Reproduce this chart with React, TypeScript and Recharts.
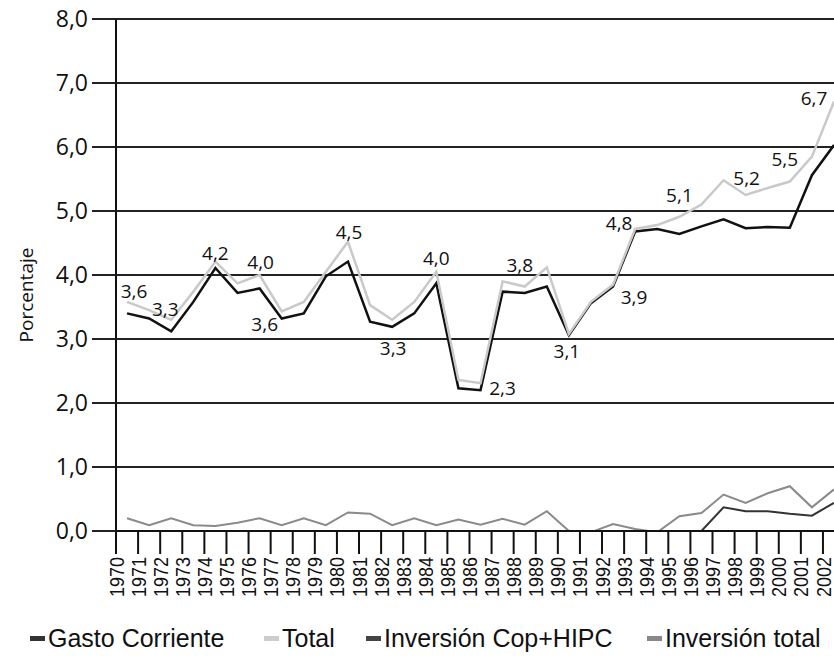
import { LineChart, Line, XAxis, YAxis, CartesianGrid, LabelList, Label } from "recharts";

const years = [
  1970, 1971, 1972, 1973, 1974, 1975, 1976, 1977, 1978, 1979, 1980, 1981,
  1982, 1983, 1984, 1985, 1986, 1987, 1988, 1989, 1990, 1991, 1992, 1993,
  1994, 1995, 1996, 1997, 1998, 1999, 2000, 2001, 2002,
];

const gastoCorriente = [
  3.4, 3.32, 3.12, 3.58, 4.11, 3.72, 3.79, 3.32, 3.4, 3.98, 4.21, 3.27,
  3.19, 3.4, 3.87, 2.23, 2.2, 3.74, 3.72, 3.82, 3.06, 3.56, 3.82, 4.68,
  4.72, 4.64, 4.76, 4.87, 4.73, 4.75, 4.74, 5.56, 6.03,
];

const total = [
  3.58, 3.45, 3.3, 3.74, 4.21, 3.87, 4.0, 3.43, 3.58, 4.05, 4.52, 3.53,
  3.3, 3.58, 4.05, 2.36, 2.31, 3.9, 3.82, 4.12, 3.08, 3.58, 3.85, 4.72,
  4.78, 4.91, 5.1, 5.48, 5.25, 5.36, 5.46, 5.85, 6.71,
];

const inversionCopHipc = [
  null, null, null, null, null, null, null, null, null, null, null, null,
  null, null, null, null, null, null, null, null, null, null, null, null,
  null, null, 0, 0.37, 0.31, 0.31, 0.27, 0.24, 0.44,
];

const inversionTotal = [
  0.2, 0.09, 0.2, 0.09, 0.08, 0.13, 0.2, 0.09, 0.2, 0.09, 0.29, 0.27,
  0.09, 0.2, 0.09, 0.18, 0.1, 0.19, 0.1, 0.31, 0, -0.02, 0.11, 0.03,
  -0.02, 0.23, 0.28, 0.57, 0.44, 0.59, 0.7, 0.37, 0.65,
];

const yTicks = [0, 1, 2, 3, 4, 5, 6, 7, 8];

// data labels printed on the chart
const totalLabelYears = [1970, 1972, 1974, 1976, 1980, 1984, 1988, 1993, 1996, 1998, 2000, 2002];
const totalLabelTexts = ["3,6", "3,3", "4,2", "4,0", "4,5", "4,0", "3,8", "4,8", "5,1", "5,2", "5,5", "6,7"];
const gastoLabelYears = [1977, 1982, 1986, 1990, 1992];
const gastoLabelTexts = ["3,6", "3,3", "2,3", "3,1", "3,9"];

const legendNames = ["Gasto Corriente", "Total", "Inversión Cop+HIPC", "Inversión total"];

// label placement relative to the point (centre of text)
const totalLabelPos: Record<number, [number, number]> = {
  1970: [7, -11], 1972: [-6, -11], 1974: [0, -9], 1976: [1, -13],
  1980: [1, -10], 1984: [0, -14], 1988: [-5, -22], 1993: [-16, -6],
  1996: [-22, -10], 1998: [1, -17], 2000: [-5, -23], 2002: [-20, -4],
};
const gastoLabelPos: Record<number, [number, number]> = {
  1977: [-17, 5], 1982: [1, 21], 1986: [22, -2], 1990: [-2, 16], 1992: [21, 10],
};

// left edge of each legend entry
const legendLeft = [30, 264, 366, 647];

const data = years.map((year, i) => ({
  x: year + 0.5,
  gasto: gastoCorriente[i],
  total: total[i],
  cop: inversionCopHipc[i],
  invTotal: inversionTotal[i],
}));

const humanist = "'Open Sans', 'Noto Sans', sans-serif";
const arial = "'Liberation Sans', Arial, sans-serif";

const fmt = (v: number) => v.toFixed(1).replace(".", ",");

const colors = {
  gasto: "#111111",
  total: "#c9c9c9",
  cop: "#333333",
  invTotal: "#8a8a8a",
};
const legendColors = ["#333333", "#cccccc", "#444444", "#888888"];

function makeLabel(labelYears: number[], texts: string[], pos: Record<number, [number, number]>) {
  return (props: any) => {
    const idx = props.index as number;
    const year = years[idx];
    const k = labelYears.indexOf(year);
    if (k < 0) return null;
    const px = props.viewBox?.x ?? props.x;
    const py = props.viewBox?.y ?? props.y;
    const [dx, dy] = pos[year] ?? [0, -12];
    return (
      <text
        x={px + dx}
        y={py + dy}
        textAnchor="middle"
        dominantBaseline="central"
        fontSize={19}
        fontFamily={humanist}
        fill="#111"
      >
        {texts[k]}
      </text>
    );
  };
}

const YearTick = ({ x, y, payload }: any) => (
  <text
    x={x}
    y={y}
    transform={`rotate(-90, ${x}, ${y})`}
    textAnchor="end"
    dy="0.36em"
    fontSize={21}
    textLength={40}
    lengthAdjust="spacingAndGlyphs"
    fontFamily={arial}
    fill="#111"
  >
    {payload.value}
  </text>
);

export default function App() {
  return (
    <div style={{ position: "absolute", left: 0, top: 0, width: 834, height: 660, background: "#fff" }}>
      <LineChart width={834} height={660} data={data} margin={{ top: 19, right: 0, bottom: 0, left: 0 }}>
        <CartesianGrid vertical={false} stroke="#222" strokeWidth={2} />
        <XAxis
          type="number"
          dataKey="x"
          domain={[1970, 2002.5]}
          ticks={years}
          interval={0}
          height={129}
          tickSize={23}
          tickMargin={3}
          tick={<YearTick />}
          axisLine={{ stroke: "#111", strokeWidth: 2 }}
          tickLine={{ stroke: "#111", strokeWidth: 2 }}
        />
        <YAxis
          width={116}
          domain={[0, 8]}
          ticks={yTicks}
          allowDataOverflow
          tickFormatter={fmt}
          tickSize={24}
          tickMargin={4}
          tick={{ fontSize: 23, fontFamily: humanist, fill: "#111" }}
          axisLine={{ stroke: "#111", strokeWidth: 2 }}
          tickLine={{ stroke: "#222", strokeWidth: 2 }}
        >
          <Label
            content={({ viewBox }: any) => {
              const cx = viewBox.x + 26;
              const cy = viewBox.y + viewBox.height / 2 + 20;
              return (
                <text
                  x={cx}
                  y={cy}
                  transform={`rotate(-90, ${cx}, ${cy})`}
                  textAnchor="middle"
                  dominantBaseline="central"
                  fontSize={19}
                  fontFamily={humanist}
                  fill="#111"
                >
                  Porcentaje
                </text>
              );
            }}
          />
        </YAxis>
        <Line dataKey="gasto" stroke={colors.gasto} strokeWidth={2.5} dot={false} isAnimationActive={false}>
          <LabelList content={makeLabel(gastoLabelYears, gastoLabelTexts, gastoLabelPos)} />
        </Line>
        <Line dataKey="total" stroke={colors.total} strokeWidth={2.5} dot={false} isAnimationActive={false}>
          <LabelList content={makeLabel(totalLabelYears, totalLabelTexts, totalLabelPos)} />
        </Line>
        <Line dataKey="cop" stroke={colors.cop} strokeWidth={2} dot={false} isAnimationActive={false} />
        <Line dataKey="invTotal" stroke={colors.invTotal} strokeWidth={2} dot={false} isAnimationActive={false} />
      </LineChart>
      {legendNames.map((name, i) => (
        <div
          key={name}
          style={{
            position: "absolute",
            left: legendLeft[i],
            top: 624,
            height: 28,
            display: "flex",
            alignItems: "center",
            fontFamily: arial,
            fontSize: 25,
            color: "#111",
            whiteSpace: "nowrap",
          }}
        >
          <span style={{ display: "inline-block", width: 15, height: 5, background: legendColors[i], marginRight: 3 }} />
          <span>{name}</span>
        </div>
      ))}
    </div>
  );
}
